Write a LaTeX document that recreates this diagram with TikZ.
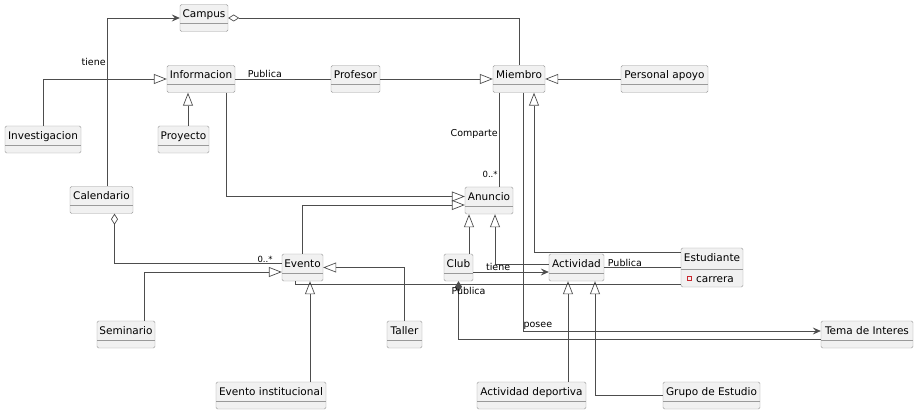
\documentclass[tikz,border=0pt]{standalone}
\usepackage{fontspec}
\setmainfont{DejaVu Sans}
\usetikzlibrary{arrows.meta}
\definecolor{clsfill}{HTML}{F1F1F1}
\definecolor{clsline}{HTML}{9A9A9A}
\definecolor{relline}{HTML}{4D4D4D}
\definecolor{attrred}{HTML}{C82930}

\begin{document}
\begin{tikzpicture}[x=1pt,y=-1pt,
	cls/.style={draw=clsline,fill=clsfill,rounded corners=1.5pt,inner sep=0pt,
		text height=13.5pt,text depth=13.5pt,font=\fontsize{10.5}{12}\selectfont,
		path picture={\draw[clsline] ([yshift=-#1]path picture bounding box.north west) -- ([yshift=-#1]path picture bounding box.north east);}},
	cls/.default=19pt,
	rel/.style={draw=relline,line width=0.7pt},
	lbl/.style={font=\fontsize{9.5}{11}\selectfont,inner sep=1pt},
	mult/.style={lbl,font=\fontsize{8.5}{10}\selectfont},
	gen/.style={rel,-{Triangle[open,length=13pt,width=10pt]}},
	assoc/.style={rel,-{Stealth[length=8pt,width=7pt,inset=3pt]}},
	agg/.style={rel,{Diamond[open,length=11pt,width=7pt]}-},
	comp/.style={rel,{Diamond[length=11pt,width=7pt]}-}]
	\useasboundingbox (0,0) rectangle (918,414);

	\node[cls,minimum width=48pt] (campus) at (204,18) {Campus};
	\node[cls,minimum width=68pt] (informacion) at (201,79) {Informacion};
	\node[cls,minimum width=49pt] (profesor) at (355.5,79) {Profesor};
	\node[cls,minimum width=52pt] (miembro) at (519,79) {Miembro};
	\node[cls,minimum width=87pt] (personal) at (664.5,79) {Personal apoyo};
	\node[cls,minimum width=76pt] (investigacion) at (43,139.5) {Investigacion};
	\node[cls,minimum width=51pt] (proyecto) at (183.5,139.5) {Proyecto};
	\node[cls,minimum width=63pt] (calendario) at (101.5,200) {Calendario};
	\node[cls,minimum width=48pt] (anuncio) at (489,200.5) {Anuncio};
	\node[cls,minimum width=41pt] (evento) at (302.5,267.5) {Evento};
	\node[cls,minimum width=29pt] (club) at (458.5,267.5) {Club};
	\node[cls,minimum width=55pt] (actividad) at (576.5,267.5) {Actividad};
	\node[cls=21pt,minimum width=62pt,text height=13pt,text depth=26pt] (estudiante) at (712,267.5) {Estudiante};
	\node[lbl,font=\fontsize{10.5}{12}\selectfont,inner sep=0pt,anchor=base west] (carrera) at (696,282) {carrera};
	\draw[attrred,line width=0.6pt] (687,276) rectangle (691,280);
	\node[cls,minimum width=58pt] (seminario) at (126,334.5) {Seminario};
	\node[cls,minimum width=35pt] (taller) at (404.5,334.5) {Taller};
	\node[cls,minimum width=92pt] (tema) at (867,334.5) {Tema de Interes};
	\node[cls,minimum width=110pt] (eventoinst) at (271,395.5) {Evento institucional};
	\node[cls,minimum width=109pt] (actdep) at (531.5,395.5) {Actividad deportiva};
	\node[cls,minimum width=97pt] (grupo) at (711.5,395.5) {Grupo de Estudio};

	\draw[assoc] ([xshift=5.5pt]calendario.north) |- node[lbl,pos=0.37,left] {tiene} (campus.west);
	\draw[agg] (campus.east) -| (miembro.north);
	\draw[gen] (investigacion.north) |- (informacion.west);
	\draw[gen] ([xshift=4.5pt]proyecto.north) -- ([xshift=4.5pt]proyecto.north |- informacion.south);
	\draw[rel] (informacion.east) -- node[lbl,pos=0.31,above] {Publica} (profesor.west);
	\draw[gen] (profesor.east) -- (miembro.west);
	\draw[gen] (personal.west) -- (miembro.east);
	\draw[rel] ([xshift=-20pt]miembro.south) -- node[lbl,pos=0.44,left] {Comparte} node[mult,pos=0.87,left] {0..*} ([xshift=-20pt]miembro.south |- anuncio.north);
	\draw[gen] ([xshift=25pt]informacion.south) |- ([yshift=4pt]anuncio.west);
	\draw[gen] (evento.north) |- ([yshift=-4.5pt]anuncio.west);
	\draw[gen] ([xshift=10.5pt]club.north) -- ([xshift=10.5pt]club.north |- anuncio.south);
	\draw[gen] ([yshift=3.5pt]actividad.west) -| ([xshift=6pt]anuncio.south);
	\draw[assoc] ([yshift=-4.5pt]club.east) -- node[lbl,pos=0.33,above] {tiene} ([yshift=-4.5pt]club.east -| actividad.west);
	\draw[gen] ([yshift=15.5pt]estudiante.west) -| ([xshift=15pt]miembro.south);
	\draw[rel] (actividad.east) -- node[lbl,pos=0.27,above] {Publica} (actividad.east -| estudiante.west);
	\draw[rel] ([xshift=-7.5pt]evento.south) |- ([yshift=-16.5pt]estudiante.west);
	\draw[comp] (club.south) |- node[lbl,pos=0.086,xshift=10pt] {Publica} ([yshift=-4.5pt]tema.west);
	\draw[assoc] ([xshift=4pt]miembro.south) |- node[lbl,pos=0.525,above] {posee} ([yshift=3.5pt]tema.west);
	\draw[agg] ([xshift=13pt]calendario.south) |- node[mult,pos=0.95,above] {0..*} ([yshift=4pt]evento.west);
	\draw[gen] ([xshift=18pt]seminario.north) |- ([yshift=-4.5pt]evento.west);
	\draw[gen] (taller.north) |- (evento.east);
	\draw[gen] ([xshift=39pt]eventoinst.north) -- ([xshift=39pt]eventoinst.north |- evento.south);
	\draw[gen] ([xshift=36.5pt]actdep.north) -- ([xshift=36.5pt]actdep.north |- actividad.south);
	\draw[gen] (grupo.west) -| ([xshift=18.5pt]actividad.south);
\end{tikzpicture}
\end{document}
